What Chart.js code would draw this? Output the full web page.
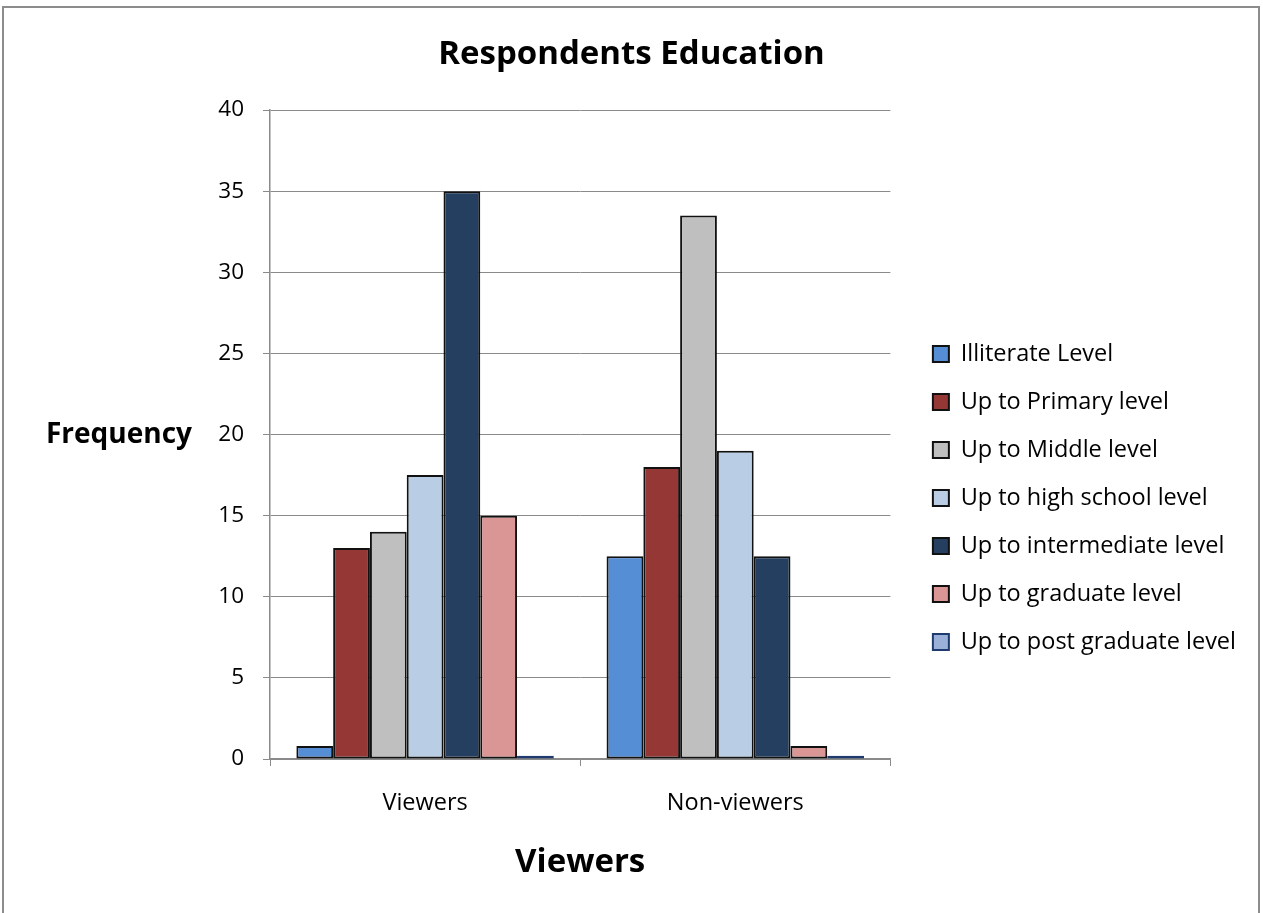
<!DOCTYPE html>
<html>
<head>
<meta charset="utf-8">
<title>Respondents Education</title>
<script src="https://cdn.jsdelivr.net/npm/chart.js@4.4.1/dist/chart.umd.min.js"></script>
<style>
  html, body { margin: 0; padding: 0; background: #fff; overflow: hidden; }
  .wrap { position: relative; width: 1263px; height: 913px; }
  .frame {
    position: absolute; left: 2px; top: 6px; width: 1254px; height: 1000px;
    border: 2px solid #8c8c8c; border-bottom: none; pointer-events: none;
  }
  canvas { position: absolute; left: 0; top: 0; }
</style>
</head>
<body>
<div class="wrap">
  <canvas id="chart" width="1263" height="913"></canvas>
  <div class="frame"></div>
</div>
<script>
const CATEGORIES = ["Viewers", "Non-viewers"];
const LEVELS = [
  "Illiterate Level",
  "Up to Primary level",
  "Up to Middle level",
  "Up to high school level",
  "Up to intermediate level",
  "Up to graduate level",
  "Up to post graduate level"
];
const ILLITERATE = [0.8, 12.5];
const PRIMARY = [13, 18];
const MIDDLE = [14, 33.5];
const HIGH_SCHOOL = [17.5, 19];
const INTERMEDIATE = [35, 12.5];
const GRADUATE = [15, 0.8];
const POST_GRADUATE = [0.2, 0.2];
const Y_TICKS = [0, 5, 10, 15, 20, 25, 30, 35, 40];

const FILLS = ["#558ED5", "#953735", "#BFBFBF", "#B9CDE5", "#243F60", "#D99694", "#9AB0D8"];
const EDGES = ["#111", "#111", "#111", "#111", "#111", "#111", "#1F3A6E"];
const GRID = "#8a8a8a";
const FONT = "'Open Sans', Lato, sans-serif";

Chart.defaults.font.family = FONT;
Chart.defaults.color = "#000";

const series = [ILLITERATE, PRIMARY, MIDDLE, HIGH_SCHOOL, INTERMEDIATE, GRADUATE, POST_GRADUATE];

const datasets = series.map((values, i) => ({
  label: LEVELS[i],
  data: values,
  backgroundColor: FILLS[i],
  borderColor: EDGES[i],
  borderWidth: 2,
  borderSkipped: false,
  categoryPercentage: 0.83,
  barPercentage: 1
}));

// y-axis title sits horizontally left of the ticks
const sideTitle = {
  id: "sideTitle",
  afterDraw(chart) {
    const { ctx, chartArea } = chart;
    ctx.save();
    ctx.font = `bold 28px ${FONT}`;
    ctx.fillStyle = "#000";
    ctx.textAlign = "center";
    ctx.textBaseline = "middle";
    ctx.fillText("Frequency", 119, (chartArea.top + chartArea.bottom) / 2 + 1);
    ctx.restore();
  }
};

// empty spacer axis, used only to reserve room on the right
const spacer = (width, weight) => ({
  type: "linear",
  position: "right",
  weight,
  display: true,
  ticks: { display: false },
  grid: { display: false },
  border: { display: false },
  afterFit: (scale) => { scale.width = width; }
});

new Chart(document.getElementById("chart"), {
  type: "bar",
  data: { labels: CATEGORIES, datasets },
  plugins: [sideTitle],
  options: {
    responsive: false,
    animation: false,
    layout: { padding: 0 },
    scales: {
      x: {
        grid: { display: true, drawOnChartArea: false, offset: true, color: GRID, tickLength: 7 },
        border: { display: true, color: GRID, width: 1.5 },
        ticks: { font: { size: 23.5 }, padding: 23, color: "#000" },
        title: {
          display: true,
          text: "Viewers",
          font: { size: 33, weight: "bold" },
          padding: { top: 0, bottom: 31 },
          color: "#000"
        },
        afterFit: (scale) => { scale.height = 154; }
      },
      y: {
        min: 0,
        max: 40,
        afterBuildTicks: (scale) => { scale.ticks = Y_TICKS.map((v) => ({ value: v })); },
        grid: { color: GRID, tickLength: 7, lineWidth: 1 },
        border: { display: true, color: GRID, width: 1.5 },
        ticks: { font: { size: 22.5 }, padding: 19, color: "#000" },
        afterFit: (scale) => { scale.width = 270; }
      },
      gap: spacer(18, 0),
      edge: spacer(17, 2000)
    },
    plugins: {
      title: {
        display: true,
        text: "Respondents Education",
        font: { size: 33, weight: "bold" },
        padding: { top: 35.2, bottom: 35.2 },
        color: "#000"
      },
      legend: {
        position: "right",
        align: "center",
        maxWidth: 420,
        title: { display: true, text: "", font: { size: 10, lineHeight: 1 }, padding: { top: 73, bottom: 0 } },
        labels: {
          boxWidth: 16,
          boxHeight: 16,
          padding: 24.5,
          font: { size: 23.5 },
          color: "#000"
        }
      },
      tooltip: { enabled: false }
    }
  }
});
</script>
</body>
</html>
